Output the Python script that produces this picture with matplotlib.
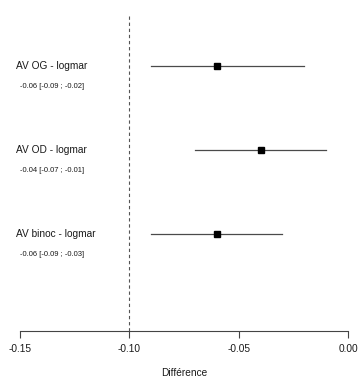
import matplotlib
matplotlib.use("Agg")
import matplotlib.pyplot as plt

labels = ["AV OG - logmar", "AV OD - logmar", "AV binoc - logmar"]
estimates = [-0.06, -0.04, -0.06]
lower = [-0.09, -0.07, -0.09]
upper = [-0.02, -0.01, -0.03]
xticks = [-0.15, -0.10, -0.05, 0.00]
xtick_labels = ["-0.15", "-0.10", "-0.05", "0.00"]
ref_line = -0.10

plt.rcParams['font.family'] = ['Liberation Sans', 'DejaVu Sans']

W, H = 358, 378
fig = plt.figure(figsize=(W / 100, H / 100), dpi=100)
ax = fig.add_axes([20 / W, (H - 331) / H, 328 / W, (331 - 14) / H])

ypos = [3, 2, 1]
for y, e, lo, hi, lab in zip(ypos, estimates, lower, upper, labels):
    ax.plot([lo, hi], [y, y], color="#4a4a4a", lw=0.9, zorder=2)
    ax.plot([e], [y], marker="s", color="black", ms=3.7, zorder=3)
    ax.text(-0.1518, y, lab, fontsize=7.3, ha="left", va="center",
            color="#1a1a1a", clip_on=False)
    ax.text(-0.15, y - 0.25, f"{e:.2f} [{lo:.2f} ; {hi:.2f}]", fontsize=5.5,
            ha="left", va="center", color="#1a1a1a", clip_on=False)

ax.axvline(ref_line, color="#555555", lw=0.8, ls=(0, (3, 2.5)), zorder=1)

ax.set_xlim(-0.15, 0.0)
ax.set_ylim(3 - 265 / 84, 3 + 52 / 84)
for s in ["top", "right", "left"]:
    ax.spines[s].set_visible(False)
ax.spines["bottom"].set_color("#444444")
ax.spines["bottom"].set_linewidth(0.8)
ax.set_yticks([])
ax.set_xticks(xticks)
ax.set_xticklabels(xtick_labels, fontsize=7.3, color="#1a1a1a")
ax.tick_params(axis="x", length=5, width=0.8, color="#444444", pad=4.5)
ax.set_xlabel("Différence", fontsize=7.3, labelpad=10, color="#1a1a1a")

fig.savefig("out.png", dpi=100)
